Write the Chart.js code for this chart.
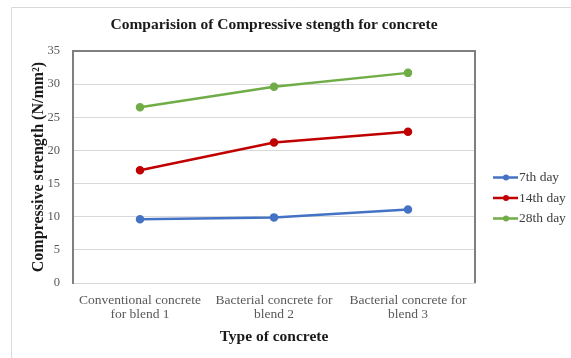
<!DOCTYPE html>
<html>
<head>
<meta charset="utf-8">
<script src="https://cdn.jsdelivr.net/npm/chart.js@4.4.1/dist/chart.umd.min.js"></script>
<style>
  html, body { margin: 0; padding: 0; background: #ffffff; }
  #wrap { width: 571px; height: 358px; position: relative; }
</style>
</head>
<body>
<div id="wrap"><canvas id="strengthChart"></canvas></div>
<script>
// categories and series
const categories = [
    ['Conventional concrete', 'for blend 1'],
    ['Bacterial concrete for', 'blend 2'],
    ['Bacterial concrete for', 'blend 3']
];
const seriesNames = ['7th day', '14th day', '28th day'];
const day7 = [9.6, 9.9, 11.1];
const day14 = [17.0, 21.2, 22.8];
const day28 = [26.5, 29.6, 31.7];
const yTicks = [0, 5, 10, 15, 20, 25, 30, 35];

const colors = ['#4472C4', '#C00000', '#70AD47'];
const serif = "'Liberation Serif', 'Times New Roman', serif";

Chart.defaults.font.family = serif;
Chart.defaults.color = '#595959';

function makeSet(name, values, color) {
    return {
        label: name,
        data: values,
        borderColor: color,
        backgroundColor: color,
        borderWidth: 2.5,
        pointRadius: 3,
        pointBackgroundColor: color,
        pointBorderColor: color,
        tension: 0
    };
}

// frame lines + legend drawn by hand (Excel style)
const framePlugin = {
    id: 'framePlugin',
    beforeDraw(chart) {
        const ctx = chart.ctx;
        ctx.save();
        ctx.strokeStyle = '#d9d9d9';
        ctx.lineWidth = 1;
        ctx.beginPath();
        ctx.moveTo(11.5, chart.height);
        ctx.lineTo(11.5, 7.5);
        ctx.lineTo(chart.width, 7.5);
        ctx.stroke();
        ctx.restore();
    },
    afterDraw(chart) {
        const ctx = chart.ctx;
        const a = chart.chartArea;
        ctx.save();
        ctx.strokeStyle = '#7f7f7f';
        ctx.lineWidth = 2;
        ctx.beginPath();
        ctx.moveTo(a.left, a.top);
        ctx.lineTo(a.right, a.top);
        ctx.lineTo(a.right, a.bottom);
        ctx.stroke();

        // legend
        const x0 = a.right + 18;
        const yMid = (a.top + a.bottom) / 2 + 31;
        const gap = 20.5;
        chart.data.datasets.forEach(function(ds, i) {
            const y = yMid + (i - 1) * gap;
            ctx.strokeStyle = ds.borderColor;
            ctx.lineWidth = 2.5;
            ctx.beginPath();
            ctx.moveTo(x0, y);
            ctx.lineTo(x0 + 25, y);
            ctx.stroke();
            ctx.fillStyle = ds.borderColor;
            ctx.beginPath();
            ctx.arc(x0 + 13, y, 3, 0, Math.PI * 2);
            ctx.fill();
            ctx.fillStyle = '#404040';
            ctx.font = '13.5px ' + serif;
            ctx.textBaseline = 'middle';
            ctx.textAlign = 'left';
            ctx.fillText(ds.label, x0 + 26, y);
        });
        ctx.restore();
    }
};

new Chart(document.getElementById('strengthChart'), {
    type: 'line',
    data: {
        labels: categories,
        datasets: [
            makeSet(seriesNames[0], day7, colors[0]),
            makeSet(seriesNames[1], day14, colors[1]),
            makeSet(seriesNames[2], day28, colors[2])
        ]
    },
    options: {
        responsive: true,
        maintainAspectRatio: false,
        animation: false,
        layout: { padding: { left: 29, right: 96, top: 0, bottom: 12 } },
        plugins: {
            legend: { display: false },
            tooltip: { enabled: false },
            title: {
                display: true,
                text: 'Comparision of Compressive stength for concrete',
                color: '#1a1a1a',
                fullSize: false,
                font: { size: 15.5, weight: 'bold' },
                padding: { top: 16, bottom: 16.4 }
            }
        },
        scales: {
            x: {
                offset: true,
                afterFit: function(axis) { axis.height = 63; },
                grid: { display: false, drawTicks: false },
                border: { display: true, color: '#d9d9d9', width: 1 },
                ticks: {
                    font: { size: 13.5, lineHeight: 1.05 },
                    color: '#595959', padding: 10, maxRotation: 0, autoSkip: false
                },
                title: {
                    display: true,
                    text: 'Type of concrete',
                    color: '#1a1a1a',
                    font: { size: 15.5, weight: 'bold' },
                    padding: { top: 0, bottom: 0 }
                }
            },
            y: {
                min: yTicks[0],
                max: yTicks[yTicks.length - 1],
                afterBuildTicks: function(axis) {
                    axis.ticks = yTicks.map(function(v) { return { value: v }; });
                },
                afterFit: function(axis) { axis.width = 44; },
                grid: { color: '#d9d9d9', drawTicks: false },
                border: { display: true, color: '#7f7f7f', width: 2 },
                ticks: { font: { size: 12.5 }, color: '#595959', padding: 13 },
                title: {
                    display: true,
                    text: 'Compressive strength (N/mm²)',
                    color: '#1a1a1a',
                    font: { size: 16, weight: 'bold' },
                    padding: { top: 0, bottom: 0 }
                }
            }
        }
    },
    plugins: [framePlugin]
});
</script>
</body>
</html>
